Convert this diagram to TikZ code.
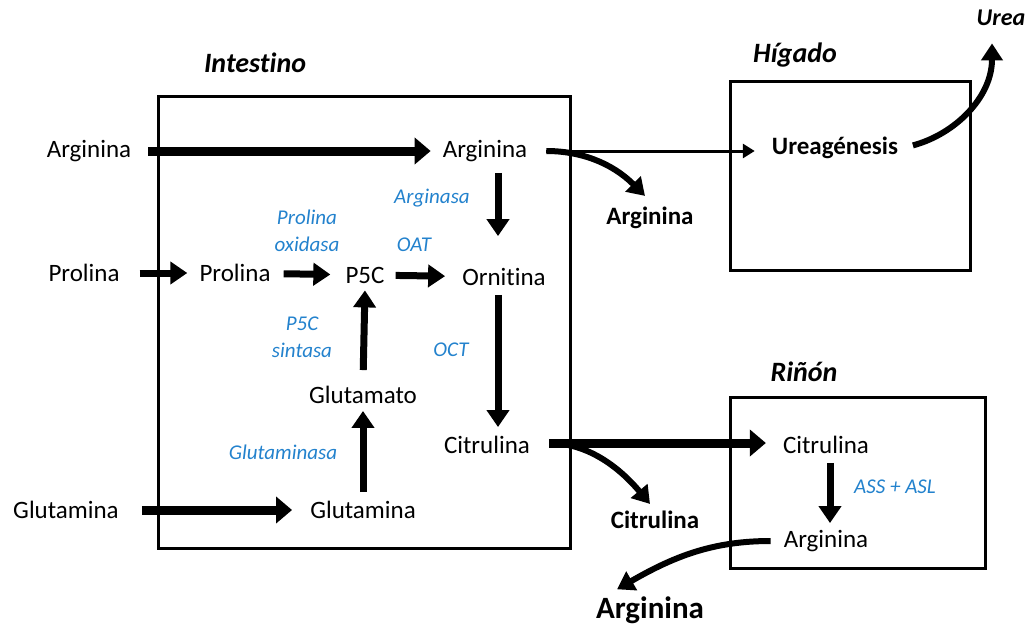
\documentclass[tikz,border=0pt]{standalone}
\usepackage{fontspec}
\setmainfont{Carlito}[Ligatures=NoCommon]
\usetikzlibrary{arrows.meta}
\definecolor{enzblue}{RGB}{35,130,205}

\tikzset{
  met/.style={inner sep=5pt, font=\fontsize{25}{30}\selectfont},
  metb/.style={inner sep=5pt, font=\fontsize{25}{30}\selectfont\bfseries},
  organ/.style={font=\fontsize{28}{32}\selectfont\bfseries\itshape},
  enz/.style={align=center, text=enzblue, font=\fontsize{21}{27}\selectfont\itshape},
  organbox/.style={draw, line width=3pt},
  bigflow/.style={line width=9pt, -{Triangle[length=16pt,width=26pt]}},
  medflow/.style={line width=7pt, -{Triangle[length=17pt,width=22pt]}},
  thinflow/.style={line width=3pt, -{Triangle[length=12pt,width=14pt]}},
  bendflow/.style={line width=6pt, -{Triangle[length=17pt,width=21pt]}},
}

\begin{document}
\begin{tikzpicture}[x=1pt, y=-1pt]
        \useasboundingbox (0,0) rectangle (1030,626);

        % organos
        \draw[organbox] (158,96) rectangle (570,548);
        \draw[organbox] (730,81) rectangle (970,270);
        \draw[organbox] (730,397) rectangle (985,568);
        \node[organ] (intestino) at (255,63) {Intestino};
        \node[organ] (higado) at (795,55) {Hígado};
        \node[organ] (rinon) at (804,372) {Riñón};
        \node[organ, font=\fontsize{24}{28}\selectfont\bfseries\itshape] (urea) at (1001,18) {Urea};

        % metabolitos
        \node[met] (argL) at (89,151) {Arginina};
        \node[met] (proL) at (84,273) {Prolina};
        \node[met] (glnL) at (66,510) {Glutamina};
        \node[met] (argI) at (485,151) {Arginina};
        \node[met] (proI) at (235,273) {Prolina};
        \node[met] (p5c) at (365,275) {P5C};
        \node[met] (orn) at (504,277) {Ornitina};
        \node[met] (glu) at (363,395) {Glutamato};
        \node[met] (glnI) at (363,510) {Glutamina};
        \node[met] (citI) at (487,445) {Citrulina};
        \node[metb] (argB) at (650,218) {Arginina};
        \node[metb] (citB) at (655,520) {Citrulina};
        \node[metb] (ureag) at (835,148) {Ureagénesis};
        \node[met] (citR) at (826,445) {Citrulina};
        \node[met] (argR) at (826,541) {Arginina};
        \node[metb, font=\fontsize{31}{36}\selectfont\bfseries] (argBot) at (650,610) {Arginina};

        % enzimas
        \node[enz] (proox) at (307,231) {Prolina\\oxidasa};
        \node[enz] (arginasa) at (432,198) {Arginasa};
        \node[enz] (oat) at (414,245) {OAT};
        \node[enz] (p5cs) at (302,337) {P5C\\sintasa};
        \node[enz] (oct) at (451,350) {OCT};
        \node[enz] (glnasa) at (283,452) {Glutaminasa};
        \node[enz] (assasl) at (895,487) {ASS + ASL};

        % flechas
        \draw[bigflow, shorten <=12pt, shorten >=7pt] (argL) -- (argI);
        \draw[bigflow, shorten <=18pt, shorten >=13pt] (glnL) -- (glnI);
        \draw[medflow, shorten <=15pt, shorten >=7pt] (proL) -- (proI);
        \draw[medflow, shorten <=8pt, shorten >=10pt] (proI) -- (p5c);
        \draw[medflow, shorten <=6pt, shorten >=12pt] (p5c) -- (orn);
        \draw[medflow] ([xshift=13pt,yshift=-6pt]argI.south) -- ([xshift=13pt,yshift=27pt]argI.south |- orn.north);
        \draw[medflow] ([xshift=13pt,yshift=-4pt]argI.south |- orn.south) -- ([xshift=13pt,yshift=4pt]argI.south |- citI.north);
        \draw[medflow, shorten <=11pt, shorten >=2pt] (glu.north) -- (p5c.south);
        \draw[medflow, shorten <=4pt, shorten >=2pt] (glnI.north) -- (glu.south);
        \draw[medflow, shorten <=4pt, shorten >=2pt] ([xshift=4pt]citR.south) -- ([xshift=4pt]argR.north);

        \draw[thinflow, shorten <=14pt, shorten >=12pt] (argI.east) -- (argI.east -| ureag.west);
        \draw[bendflow, shorten <=14pt] (argI.east) to[out=0, in=135] ([xshift=-5pt,yshift=6pt]argB.north);
        \draw[bigflow, shorten <=14pt, shorten >=12pt] ([yshift=2pt]citI.east) -- ([yshift=2pt]citI.east -| citR.west);
        \draw[bendflow, shorten <=14pt] ([yshift=2pt]citI.east) to[out=0, in=130] ([xshift=-5pt,yshift=2pt]citB.north);
        \draw[bendflow, shorten <=8pt] (argR.west) to[out=180, in=30] ([xshift=-33pt,yshift=2pt]argBot.north);
        \draw[bendflow, shorten <=10pt] (ureag.east) to[out=15, in=270] ([xshift=-9pt,yshift=-14pt]urea.south);
\end{tikzpicture}
\end{document}
